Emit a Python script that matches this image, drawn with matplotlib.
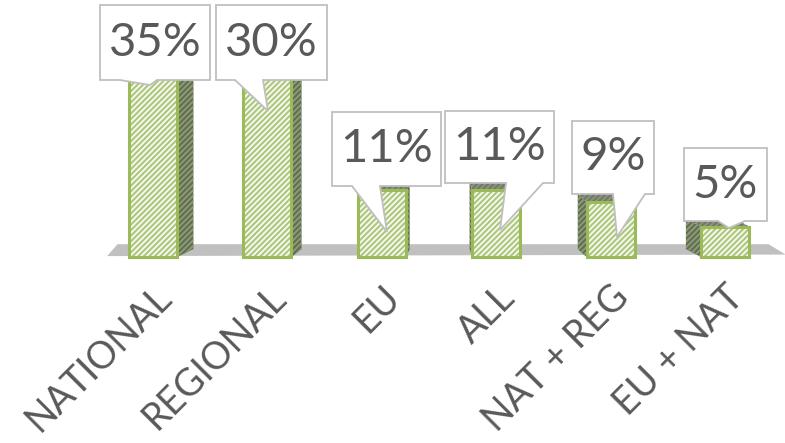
import matplotlib
matplotlib.use('Agg')
import matplotlib.pyplot as plt
from matplotlib.patches import Polygon

# Share of funding source by level
categories = ['NATIONAL', 'REGIONAL', 'EU', 'ALL', 'NAT + REG', 'EU + NAT']
shares = [35, 30, 11, 11, 9, 5]
labels = ['35%', '30%', '11%', '11%', '9%', '5%']

# Callout layout in pixels (top-left origin): box left, top, right, bottom,
# pointer base left/right on the box bottom edge, pointer tip
box_l = [100, 216, 332, 445, 572, 684]
box_t = [5, 5, 112, 111, 121, 148]
box_r = [210, 327, 441, 554, 654, 767]
box_b = [80, 80, 186, 183, 194, 221]
ptr_a = [120, 235, 352, 506, 613, 718]
ptr_b = [157, 263, 380, 543, 645, 745]
tip_x = [150, 268, 387, 500, 617, 729]
tip_y = [85, 111, 232, 230, 237, 228]

W, H = 785, 443
GREEN = '#9bbb59'
HATCH = '#adc77d'
TEXT = '#595959'

plt.rcParams['font.family'] = ['Lato', 'DejaVu Sans']
plt.rcParams['hatch.linewidth'] = 1.5

fig = plt.figure(figsize=(W / 100, H / 100), dpi=100, facecolor='white')
ax = fig.add_axes([0, 0, 1, 1])
ax.set_axis_off()
ax.set_xlim(-1.337, 5.524)
ax.set_ylim(-30.49, 42.13)

x = list(range(len(categories)))
bw = 0.42

# floor of the 3-D plot area
floor = Polygon([(-0.40, 0.15), (5.53, 0.4), (5.38, 2.1), (-0.31, 2.1)],
                closed=True, fc='#c0c0c0', ec='none', zorder=1)
ax.add_patch(floor)

# side and top faces, leaning toward the vanishing point
vp = 2.6
dyd = 1.3
for xi, v in zip(x, shares):
    d = 0.055 * (vp - xi)
    xe = xi + bw / 2 if d > 0 else xi - bw / 2
    side = Polygon([(xe, 0), (xe, v), (xe + d, v + dyd), (xe + d, dyd)],
                   closed=True, fc='#5f6b50', ec='#8a9a72', hatch='//////',
                   lw=0, zorder=2)
    ax.add_patch(side)
    top = Polygon([(xi - bw / 2, v), (xi + bw / 2, v),
                   (xi + bw / 2 + d, v + dyd), (xi - bw / 2 + d, v + dyd)],
                  closed=True, fc='#8e9484', ec='#6f7a60', hatch='//////',
                  lw=0, zorder=2)
    ax.add_patch(top)

# front faces: hatched fill then green outline
ax.bar(x, shares, width=bw, color='#f7faf1', edgecolor=HATCH, hatch='//////',
       linewidth=0, zorder=3)
ax.bar(x, shares, width=bw, color='none', edgecolor=GREEN, linewidth=2.2,
       zorder=4)

# callout data labels
for i in range(len(shares)):
    L, T, R, B = box_l[i], H - box_t[i], box_r[i], H - box_b[i]
    pa, pb = ptr_a[i], ptr_b[i]
    tx, ty = tip_x[i], H - tip_y[i]
    verts = [(L, T), (R, T), (R, B), (pb, B), (tx, ty), (pa, B), (L, B)]
    call = Polygon(verts, closed=True, fc='white', ec='#bfbfbf', lw=1.3,
                   transform=None, zorder=5)
    ax.add_patch(call)
    fig.text((L + R) / 2 / W, (T + B) / 2 / H, labels[i], ha='center',
             va='center', fontsize=34, color=TEXT, zorder=6)

# rotated category labels
for xi, name in zip(x, categories):
    ax.text(xi + 0.0, -3.6, name, rotation=45, rotation_mode='anchor',
            ha='right', va='top', fontsize=27, color=TEXT)

fig.savefig('out.png', dpi=100, facecolor='white')
